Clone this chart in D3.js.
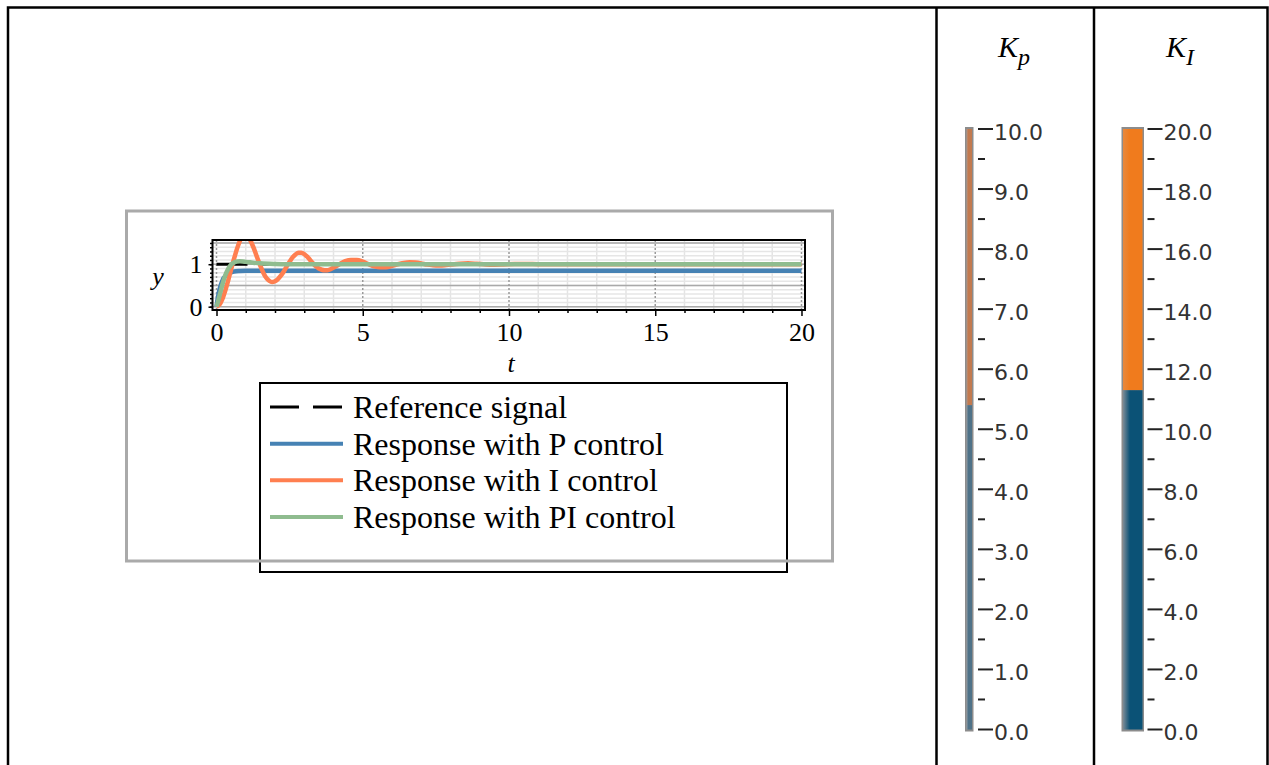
<!DOCTYPE html>
<html>
<head>
<meta charset="utf-8">
<script src="https://cdn.jsdelivr.net/npm/d3@7"></script>
<style>
  body { margin: 0; background: #fff; }
  svg { display: block; }
</style>
</head>
<body>
<div id="chart"></div>
<script>
// step response data
var tRef = [0, 20];
var yRef = [1, 1];

var tP = [0, 0.05, 0.1, 0.15, 0.2, 0.25, 0.3, 0.4, 0.5, 0.6, 0.8, 1.0, 20];
var yP = [0, 0.23, 0.40, 0.52, 0.61, 0.68, 0.72, 0.78, 0.81, 0.83, 0.84, 0.844, 0.844];

var tI = [0, 0.1, 0.2, 0.3, 0.4, 0.5, 0.6, 0.7, 0.8, 0.9, 1.0, 1.1, 1.2, 1.3, 1.4, 1.5, 1.6, 1.7, 1.8, 1.9,
  2.0, 2.1, 2.2, 2.3, 2.4, 2.5, 2.6, 2.7, 2.8, 2.9, 3.0, 3.1, 3.2, 3.3, 3.4, 3.5, 3.6, 3.7, 3.8, 3.9,
  4.0, 4.2, 4.4, 4.6, 4.8, 5.0, 5.2, 5.4, 5.6, 5.8, 6.0, 6.2, 6.4, 6.6, 6.8, 7.0, 7.2, 7.4, 7.6, 7.8,
  8.0, 8.3, 8.6, 8.9, 9.2, 9.5, 9.8, 10.2, 10.6, 11, 20];
var yI = [0, 0.05, 0.18, 0.38, 0.62, 0.88, 1.13, 1.36, 1.55, 1.67, 1.70, 1.63, 1.50, 1.33, 1.14, 0.96, 0.80, 0.68, 0.61, 0.58,
  0.60, 0.65, 0.73, 0.83, 0.95, 1.06, 1.16, 1.23, 1.27, 1.27, 1.24, 1.18, 1.10, 1.02, 0.95, 0.90, 0.87, 0.86, 0.86, 0.88,
  0.92, 1.00, 1.07, 1.10, 1.10, 1.06, 1.00, 0.95, 0.93, 0.93, 0.96, 1.00, 1.03, 1.045, 1.04, 1.02, 0.99, 0.975, 0.97, 0.975,
  0.99, 1.01, 1.02, 1.01, 0.995, 0.99, 0.995, 1.005, 1.005, 1.0, 1.0];

var tPI = [0, 0.05, 0.1, 0.15, 0.2, 0.3, 0.4, 0.5, 0.6, 0.7, 0.8, 0.9, 1.0, 1.2, 1.5, 2.0, 2.5, 20];
var yPI = [0, 0.12, 0.25, 0.38, 0.52, 0.74, 0.89, 0.99, 1.04, 1.065, 1.07, 1.065, 1.055, 1.04, 1.02, 1.005, 1.0, 1.0];

var seriesNames = ["Reference signal", "Response with P control", "Response with I control", "Response with PI control"];
var seriesColors = ["#000000", "#4682b4", "#ff7f50", "#8fbc8f"];

var xMajor = [0, 5, 10, 15, 20];
var yMajor = [0, 1];

// slider values
var kpValue = 5.4, kpMax = 10;
var kiValue = 11.3, kiMax = 20;

var svg = d3.select("#chart").append("svg")
  .attr("width", 1269)
  .attr("height", 765);

var serif = "'Liberation Serif', 'Times New Roman', serif";
var sans = "'DejaVu Sans', sans-serif";

// outer frame
svg.append("path")
  .attr("d", "M8,765 V7.5 H1267.5 V765 M936.5,7.5 V765 M1094,7.5 V765")
  .attr("fill", "none")
  .attr("stroke", "#000")
  .attr("stroke-width", 2.5);

// plot panel
var frame = { left: 212.5, right: 805, top: 240, bottom: 310 };

var xScale = d3.scaleLinear()
  .domain([-0.137, 20.12])
  .range([frame.left, frame.right]);

var yScale = d3.scaleLinear()
  .domain([-0.078, 1.57])
  .range([frame.bottom, frame.top]);

var plot = svg.append("g");

plot.append("clipPath").attr("id", "clip")
  .append("rect")
  .attr("x", frame.left).attr("y", frame.top)
  .attr("width", frame.right - frame.left).attr("height", frame.bottom - frame.top);

// grid
var grid = plot.append("g").attr("clip-path", "url(#clip)");
grid.selectAll(".vminor").data(d3.range(1, 21).filter(d => d % 5 != 0))
  .enter().append("line")
  .attr("x1", d => xScale(d)).attr("x2", d => xScale(d))
  .attr("y1", frame.top).attr("y2", frame.bottom)
  .attr("stroke", "#e4e4e4").attr("stroke-width", 1.5);
grid.selectAll(".hminor").data(d3.range(0, 16).map(d => d / 10))
  .enter().append("line")
  .attr("x1", frame.left).attr("x2", frame.right)
  .attr("y1", d => yScale(d)).attr("y2", d => yScale(d))
  .attr("stroke", "#e6e6e6").attr("stroke-width", 1.5);
grid.selectAll(".hmajor").data([0, 0.5, 1, 1.5])
  .enter().append("line")
  .attr("x1", frame.left).attr("x2", frame.right)
  .attr("y1", d => yScale(d)).attr("y2", d => yScale(d))
  .attr("stroke", "#a9a9a9").attr("stroke-width", 1.5);
grid.selectAll(".vmajor").data(xMajor)
  .enter().append("line")
  .attr("x1", d => xScale(d)).attr("x2", d => xScale(d))
  .attr("y1", frame.top).attr("y2", frame.bottom)
  .attr("stroke", "#9a9a9a").attr("stroke-width", 1.5)
  .attr("stroke-dasharray", "2,2");

// curves
var line = d3.line()
  .x(d => xScale(d[0]))
  .y(d => yScale(d[1]))
  .curve(d3.curveMonotoneX);

var series = [
  d3.zip(tRef, yRef),
  d3.zip(tP, yP),
  d3.zip(tI, yI),
  d3.zip(tPI, yPI)
];

var curves = plot.append("g").attr("clip-path", "url(#clip)");
series.forEach(function(s, i) {
  curves.append("path")
    .datum(s)
    .attr("d", line)
    .attr("fill", "none")
    .attr("stroke", seriesColors[i])
    .attr("stroke-width", i == 0 ? 3 : 4.5)
    .attr("stroke-dasharray", i == 0 ? "31,11" : null)
    .attr("stroke-linejoin", "round");
});

// frame box
plot.append("rect")
  .attr("x", frame.left).attr("y", frame.top)
  .attr("width", frame.right - frame.left).attr("height", frame.bottom - frame.top)
  .attr("fill", "none").attr("stroke", "#000").attr("stroke-width", 2);

// axes
plot.append("g")
  .attr("transform", `translate(0, ${frame.bottom})`)
  .call(d3.axisBottom(xScale).tickValues(xMajor).tickSize(6).tickPadding(7).tickFormat(d3.format("d")));
plot.append("g")
  .attr("transform", `translate(0, ${frame.bottom})`)
  .call(d3.axisBottom(xScale).tickValues(d3.range(1, 21).filter(d => d % 5 != 0)).tickSize(3).tickFormat(""));

plot.append("g")
  .attr("transform", `translate(${frame.left}, 0)`)
  .call(d3.axisLeft(yScale).tickValues(yMajor).tickSize(4).tickPadding(6).tickFormat(d3.format("d")));
plot.append("g")
  .attr("transform", `translate(${frame.left}, 0)`)
  .call(d3.axisLeft(yScale).tickValues(d3.range(0, 16).map(d => d / 10)).tickSize(2.5).tickFormat(""));

plot.selectAll(".domain").remove();
plot.selectAll(".tick line").attr("stroke", "#000").attr("stroke-width", 1.5);
plot.selectAll(".tick text")
  .attr("font-family", serif)
  .attr("font-size", 26)
  .attr("fill", "#000");

// axis labels
plot.append("text")
  .attr("x", 158).attr("y", 285)
  .attr("text-anchor", "middle")
  .attr("font-family", serif).attr("font-style", "italic").attr("font-size", 26)
  .text("y");
plot.append("text")
  .attr("x", 511).attr("y", 372)
  .attr("text-anchor", "middle")
  .attr("font-family", serif).attr("font-style", "italic").attr("font-size", 26)
  .text("t");

// legend
var legend = svg.append("g");
legend.append("rect")
  .attr("x", 260).attr("y", 383)
  .attr("width", 527).attr("height", 189)
  .attr("fill", "#fff").attr("stroke", "#000").attr("stroke-width", 2);

var legendY = d3.scalePoint().domain(seriesNames).range([407, 517]);
seriesNames.forEach(function(name, i) {
  legend.append("line")
    .attr("x1", 270).attr("x2", 343)
    .attr("y1", legendY(name)).attr("y2", legendY(name))
    .attr("stroke", seriesColors[i])
    .attr("stroke-width", i == 0 ? 3 : 4)
    .attr("stroke-dasharray", i == 0 ? "29,14" : null);
  legend.append("text")
    .attr("x", 353).attr("y", legendY(name) + 11)
    .attr("font-family", serif).attr("font-size", 32)
    .text(name);
});

// gray panel border (drawn over legend)
svg.append("rect")
  .attr("x", 126.5).attr("y", 211)
  .attr("width", 706).attr("height", 350)
  .attr("fill", "none").attr("stroke", "#aaa").attr("stroke-width", 3);

// sliders
var defs = svg.append("defs");
function grad(id, c1, c2) {
  var g = defs.append("linearGradient").attr("id", id).attr("x1", "0").attr("x2", "1");
  g.append("stop").attr("offset", "0").attr("stop-color", c1);
  g.append("stop").attr("offset", "0.35").attr("stop-color", c2);
  g.append("stop").attr("offset", "1").attr("stop-color", c2);
}
grad("kpLow", "#8e9aa3", "#4f7288");
grad("kpHigh", "#b49482", "#c27a4f");
grad("kiLow", "#7d8c96", "#0b5276");
grad("kiHigh", "#e8893e", "#f07b1d");

function slider(opts) {
  var s = d3.scaleLinear().domain([0, opts.max]).range([729.5, 129]);
  var g = svg.append("g");

  g.append("rect")
    .attr("x", opts.trackX).attr("y", s(opts.max) - 2)
    .attr("width", opts.trackW).attr("height", s(0) - s(opts.max) + 4)
    .attr("fill", "#8c8c8c");
  g.append("rect")
    .attr("x", opts.trackX + 1.5).attr("y", s(opts.max))
    .attr("width", opts.trackW - 3).attr("height", s(opts.value) - s(opts.max))
    .attr("fill", `url(#${opts.high})`);
  g.append("rect")
    .attr("x", opts.trackX + 1.5).attr("y", s(opts.value))
    .attr("width", opts.trackW - 3).attr("height", s(0) - s(opts.value))
    .attr("fill", `url(#${opts.low})`);

  var majors = d3.range(0, opts.max + 0.001, opts.step);
  var minors = majors.slice(0, -1).map(d => d + opts.step / 2);

  g.selectAll(".maj").data(majors).enter().append("line")
    .attr("x1", opts.tickX).attr("x2", opts.tickX + 15)
    .attr("y1", d => s(d)).attr("y2", d => s(d))
    .attr("stroke", "#222").attr("stroke-width", 2);
  g.selectAll(".min").data(minors).enter().append("line")
    .attr("x1", opts.tickX).attr("x2", opts.tickX + 7)
    .attr("y1", d => s(d)).attr("y2", d => s(d))
    .attr("stroke", "#222").attr("stroke-width", 2);
  g.selectAll(".lab").data(majors).enter().append("text")
    .attr("x", opts.tickX + 16).attr("y", d => s(d) + 3)
    .attr("dy", "0.35em")
    .attr("font-family", sans).attr("font-size", 22)
    .attr("fill", "#333")
    .text(d => d3.format(".1f")(d));

  var title = g.append("text")
    .attr("x", opts.titleX).attr("y", 57)
    .attr("font-family", serif).attr("font-style", "italic").attr("font-size", 30);
  title.append("tspan").text("K");
  title.append("tspan").attr("dy", 8).attr("font-size", 24).text(opts.sub);
}

slider({ max: kpMax, value: kpValue, step: 1, trackX: 965, trackW: 8.5, tickX: 978,
  high: "kpHigh", low: "kpLow", titleX: 998, sub: "p" });
slider({ max: kiMax, value: kiValue, step: 2, trackX: 1121.5, trackW: 22.5, tickX: 1147.5,
  high: "kiHigh", low: "kiLow", titleX: 1166, sub: "I" });
</script>
</body>
</html>
